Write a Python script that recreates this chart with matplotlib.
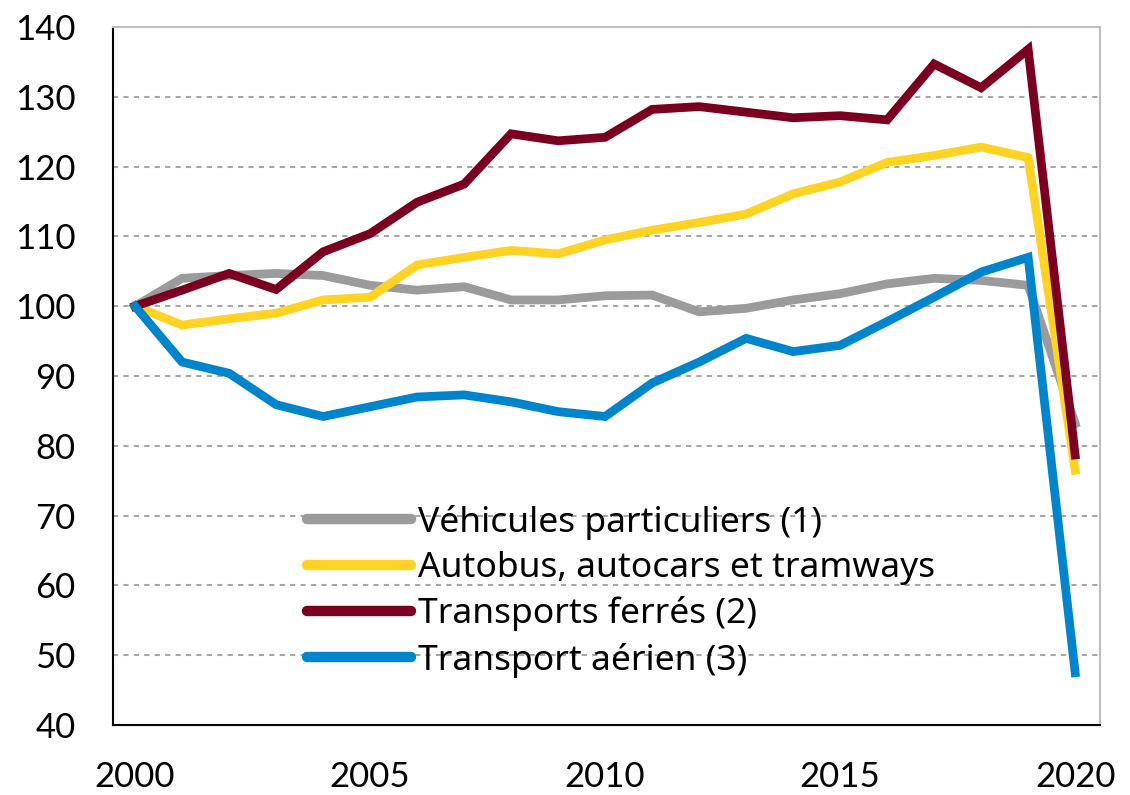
import numpy as np
import matplotlib.pyplot as plt

plt.rcParams['font.family'] = ['Lato', 'DejaVu Sans']

years = list(range(2000, 2021))

vehicules = [100, 104.0, 104.4, 104.7, 104.4, 103.0, 102.3, 102.8, 100.9, 100.9, 101.5,
             101.6, 99.2, 99.7, 100.9, 101.8, 103.2, 104.0, 103.7, 103.0, 83.2]
autobus = [100, 97.3, 98.2, 99.0, 100.9, 101.3, 105.9, 107.0, 108.0, 107.5, 109.5,
           110.9, 112.0, 113.2, 116.1, 117.8, 120.6, 121.6, 122.8, 121.3, 76.5]
ferres = [100, 102.3, 104.7, 102.4, 107.8, 110.4, 114.9, 117.5, 124.7, 123.7, 124.2,
          128.2, 128.6, 127.8, 127.0, 127.3, 126.7, 134.7, 131.3, 136.8, 78.7]
aerien = [100, 92.0, 90.4, 85.9, 84.2, 85.6, 87.0, 87.3, 86.3, 84.9, 84.2,
          89.0, 92.0, 95.4, 93.5, 94.4, 97.8, 101.3, 104.9, 107.0, 47.5]

labels = ['Véhicules particuliers (1)', 'Autobus, autocars et tramways',
          'Transports ferrés (2)', 'Transport aérien (3)']
colors = ['#9b9b9b', '#ffd324', '#7b0020', '#0084cc']

fig = plt.figure(figsize=(11.3, 7.95), dpi=100)
ax = fig.add_axes([0.1, 0.088, 0.8735, 0.878])

for vals, lab, col in zip([vehicules, autobus, ferres, aerien], labels, colors):
    ax.plot(years, vals, color=col, linewidth=6.3, label=lab, solid_joinstyle='miter')

ax.set_xlim(1999.53, 2020.53)
ax.set_ylim(40, 140)
ax.set_xticks([2000, 2005, 2010, 2015, 2020])
ax.set_yticks(range(40, 141, 10))
for v in range(50, 140, 10):
    ax.axhline(v, color='#a6a6a6', linewidth=1.5, linestyle=(0, (2.5, 2.5)), zorder=0)

ax.tick_params(axis='both', length=0, labelsize=25)
ax.tick_params(axis='x', pad=26)
ax.tick_params(axis='y', pad=27)

for s in ['top', 'right']:
    ax.spines[s].set_color('#bfbfbf')
    ax.spines[s].set_linewidth(1.5)
for s in ['left', 'bottom']:
    ax.spines[s].set_color('black')
    ax.spines[s].set_linewidth(1.5)

leg = ax.legend(loc='upper left', bbox_to_anchor=(0.182, 0.336), frameon=False,
                prop={'family': 'Noto Sans', 'size': 25.5}, handlelength=2.95,
                handletextpad=0.2, labelspacing=0.32, borderaxespad=0)
for line in leg.get_lines():
    line.set_linewidth(7.5)
    line.set_solid_capstyle('round')

plt.savefig('out.png', dpi=100)
